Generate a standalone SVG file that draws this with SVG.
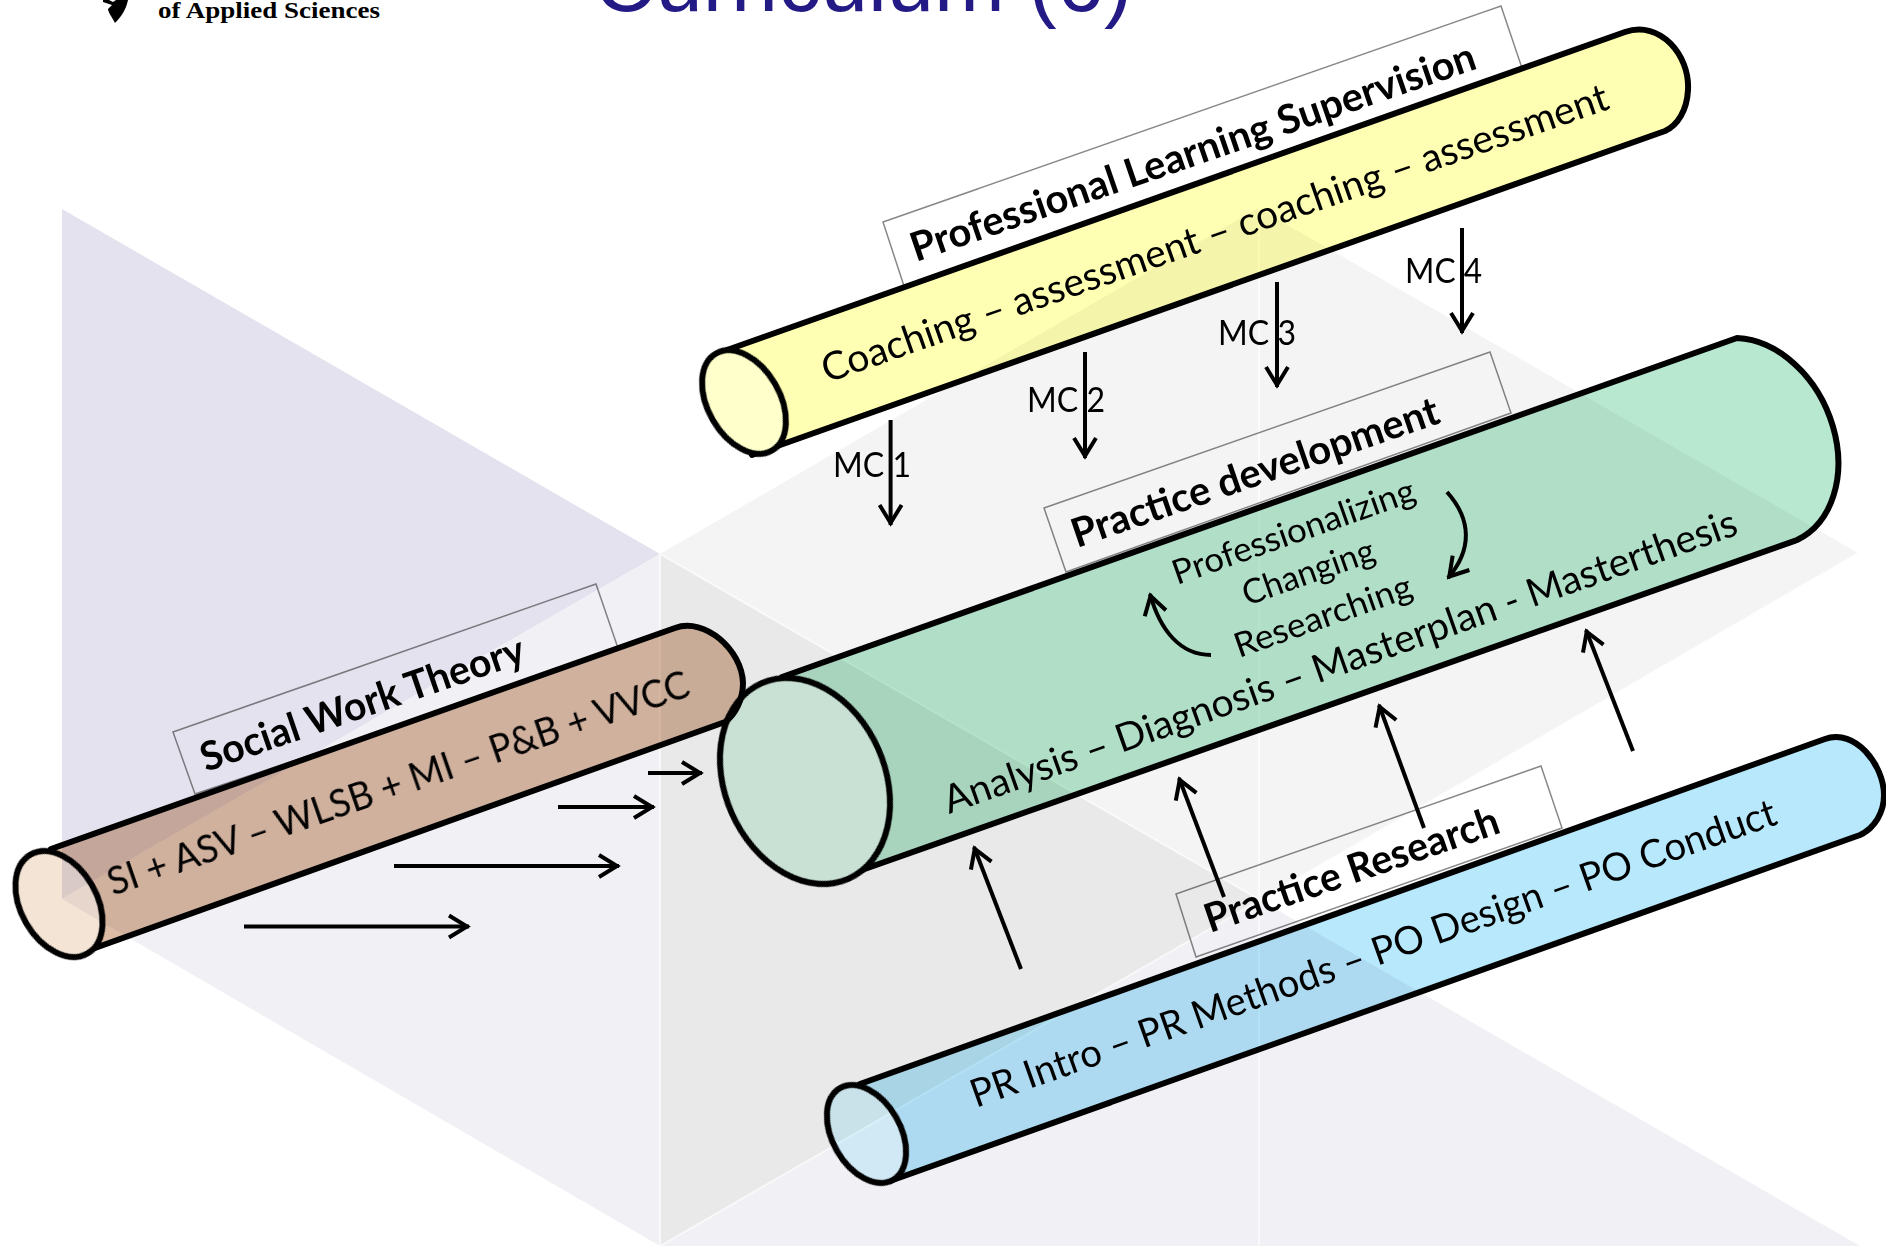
<svg xmlns="http://www.w3.org/2000/svg" width="1886" height="1246" viewBox="0 0 1886 1246">
<style>
.cyl{mix-blend-mode:multiply}
.edge{stroke:#000;stroke-width:6;stroke-linejoin:round}
.lbl{fill:none;stroke:#888;stroke-width:1.5}
text{fill:#000;font-family:Lato,"Open Sans",sans-serif}
.t{font-size:39px}
.b{font-size:40px;font-weight:700}
.s{font-size:34px}
.mc{font-size:34px}
.ar{fill:none;stroke:#000;stroke-width:4;marker-end:url(#h)}
</style>
<defs>
<marker id="h" markerUnits="userSpaceOnUse" markerWidth="30" markerHeight="30" refX="22" refY="15" orient="auto">
<path d="M2,4 L20,15 L2,26" fill="none" stroke="#000" stroke-width="4"/>
</marker>
</defs>
<rect width="1886" height="1246" fill="#fff"/>
<g id="background">
<polygon points="62,209 660,554 62,899" fill="#e4e2ee"/>
<polygon points="62,899 660,554 660,1246" fill="#f1f0f5"/>
<polygon points="660,1246 1260,900 1886,1261 1886,1246" fill="#f1f0f5"/>
<polygon points="660,554 1260,900 660,1246" fill="#e9e9e9"/>
<polygon points="660,554 1258,208 1858,553 1260,900" fill="#f4f4f4"/>
<path d="M660,554V1246M660,554L1260,900M660,1246L1260,900M1260,900L1858,553M1259,208V1246" fill="none" stroke="#fff" stroke-opacity=".6" stroke-width="2"/>
</g>
<g id="header">
<text x="594" y="11" style="font-family:'Liberation Sans',sans-serif;font-size:85px;fill:#241a85">Curriculum (6)</text>
<text x="158" y="18" textLength="222" lengthAdjust="spacingAndGlyphs" style="font-family:'Liberation Serif',serif;font-size:23px;font-weight:700">of Applied Sciences</text>
<path d="M103,0H109L113,2L116,0H128C126,10 121,17 115,23C112,17 108,12 108,9L112,5L103,2Z" fill="#000"/>
</g>
<g id="node-theory" class="cyl">
<polygon class="lbl" points="195,794 173,732 596,584 619,651"/>
<path class="edge" fill="#dcbca5" d="M51,849L675,628C705,617 742,650 743,683C743,700 735,715 725,722L81,953Z"/>
<ellipse class="edge" cx="59" cy="904" rx="38" ry="57" transform="rotate(-30 59 904)" fill="#f4e4d5"/>
<text class="b" textLength="340" lengthAdjust="spacingAndGlyphs" transform="translate(206,772) rotate(-19)">Social Work Theory</text>
<text class="t" textLength="613" lengthAdjust="spacingAndGlyphs" transform="translate(113,896) rotate(-19.1)">SI + ASV – WLSB + MI – P&amp;B + VVCC</text>
</g>
<g id="node-supervision" class="cyl">
<polygon class="lbl" points="904,286 883,222 1501,6 1523,71"/>
<path class="edge" fill="#ffffb3" d="M727,350L1625,32C1660,20 1690,55 1688,90C1687,110 1678,125 1665,131L752,455Z"/>
<ellipse class="edge" cx="744" cy="402" rx="36" ry="56" transform="rotate(-30 744 402)" fill="#ffffcc"/>
<text class="b" textLength="595" lengthAdjust="spacingAndGlyphs" transform="translate(916,262) rotate(-19)">Professional Learning Supervision</text>
<text class="t" textLength="831" lengthAdjust="spacingAndGlyphs" transform="translate(827,383) rotate(-19.3)">Coaching – assessment – coaching – assessment</text>
</g>
<g id="node-practice" class="cyl">
<polygon class="lbl" points="1066,572 1044,508 1490,352 1511,413"/>
<path class="edge" fill="#b8e8cf" d="M782,677L1737,338A82,108 -24 0 1 1797,540L842,877Z"/>
<ellipse class="edge" cx="805" cy="781" rx="80" ry="107" transform="rotate(-24 805 781)" fill="#dbf7e8"/>
<text class="b" textLength="386" lengthAdjust="spacingAndGlyphs" transform="translate(1077,548) rotate(-19)">Practice development</text>
<text class="t" textLength="839" lengthAdjust="spacingAndGlyphs" transform="translate(949,814) rotate(-19.5)">Analysis – Diagnosis – Masterplan - Masterthesis</text>
<text class="s" textLength="255" lengthAdjust="spacingAndGlyphs" transform="translate(1177,585) rotate(-19.4)">Professionalizing</text>
<text class="s" textLength="138" lengthAdjust="spacingAndGlyphs" transform="translate(1247,606) rotate(-19.4)">Changing</text>
<text class="s" textLength="186" lengthAdjust="spacingAndGlyphs" transform="translate(1239,658) rotate(-19.4)">Researching</text>
</g>
<g id="node-research" class="cyl">
<polygon class="lbl" points="1196,957 1176,894 1541,766 1562,828"/>
<path class="edge" fill="#b8e8fb" d="M860,1084L1825,739C1855,728 1884,765 1884,795C1884,812 1875,828 1860,835L890,1181Z"/>
<ellipse class="edge" cx="866.5" cy="1134" rx="34" ry="53" transform="rotate(-30 866.5 1134)" fill="#dcf8ff"/>
<text class="b" textLength="309" lengthAdjust="spacingAndGlyphs" transform="translate(1210,933) rotate(-19)">Practice Research</text>
<text class="t" textLength="852" lengthAdjust="spacingAndGlyphs" transform="translate(976,1108) rotate(-19.5)">PR Intro – PR Methods – PO Design – PO Conduct</text>
</g>
<g id="labels-mc">
<text class="mc" x="833" y="477" textLength="78" lengthAdjust="spacingAndGlyphs">MC 1</text>
<text class="mc" x="1027" y="412" textLength="78" lengthAdjust="spacingAndGlyphs">MC 2</text>
<text class="mc" x="1218" y="345" textLength="78" lengthAdjust="spacingAndGlyphs">MC 3</text>
<text class="mc" x="1405" y="283" textLength="77" lengthAdjust="spacingAndGlyphs">MC 4</text>
</g>
<g id="connectors">
<path class="ar" d="M890.6,420V525"/>
<path class="ar" d="M1085,352V458"/>
<path class="ar" d="M1277,282V387"/>
<path class="ar" d="M1462,228V333"/>
<path class="ar" d="M648,773H702"/>
<path class="ar" d="M558,807H654"/>
<path class="ar" d="M394,866H619"/>
<path class="ar" d="M244,926.5H469"/>
<path class="ar" d="M1021,969L974,847"/>
<path class="ar" d="M1224,897L1179,778"/>
<path class="ar" d="M1424,828L1379,705"/>
<path class="ar" d="M1633,751L1586,630"/>
<path class="ar" d="M1447,492C1472,520 1472,550 1448,578"/>
<path class="ar" d="M1211,655C1180,655 1160,630 1150,594"/>
</g>
</svg>
